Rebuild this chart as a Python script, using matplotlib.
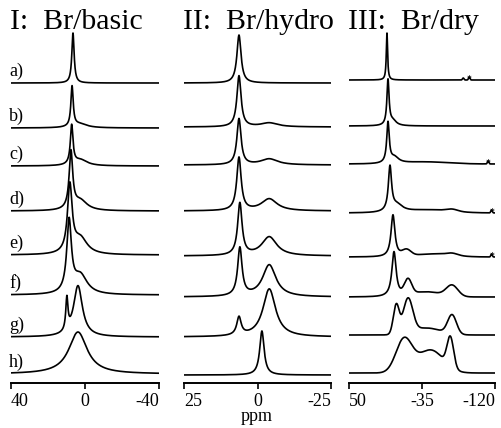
import numpy as np
import matplotlib.pyplot as plt
from matplotlib.transforms import blended_transform_factory

plt.rcParams['font.family'] = ['Liberation Serif', 'DejaVu Serif']

# peak components per spectrum: (shape, centre ppm, height, fwhm ppm)
row_labels = ["a)", "b)", "c)", "d)", "e)", "f)", "g)", "h)"]

basic_peaks = [
    [("L", 6.5, 50, 1.5)],
    [("L", 7.0, 40, 1.5), ("L", 3.0, 4, 10)],
    [("L", 7.2, 39, 1.7), ("L", 2.5, 6, 9)],
    [("L", 7.6, 57, 2.3), ("L", 2.5, 10, 9)],
    [("L", 8.2, 67, 3.0), ("L", 2.5, 16, 9)],
    [("L", 8.6, 71, 3.0), ("L", 2.5, 19, 9)],
    [("L", 9.8, 32, 1.4), ("L", 3.8, 51, 5.8)],
    [("L", 3.8, 42, 12)],
]

hydro_peaks = [
    [("L", 6.3, 48, 1.7)],
    [("L", 6.3, 51, 1.7), ("L", -4, 4, 7)],
    [("L", 6.3, 46, 1.7), ("L", -4, 6, 7)],
    [("L", 6.3, 53, 1.8), ("L", -4, 12, 6.5)],
    [("L", 6.0, 52, 1.8), ("L", -4, 19, 6.2)],
    [("L", 6.0, 48, 1.8), ("L", -4, 32, 5.5)],
    [("L", 6.3, 18, 1.8), ("L", -4, 48, 5.2)],
    [("L", -1.5, 44, 1.8)],
]

dry_peaks = [
    [("L", 5.8, 47, 1.8), ("G", -83, 2, 2), ("G", -90, 3, 2)],
    [("L", 4.6, 45, 3.0), ("L", -1, 5, 10)],
    [("L", 4.6, 40, 3.5), ("L", -3, 6, 12), ("G", -40, 2, 60), ("G", -112, 3, 2)],
    [("L", 2.3, 44, 4.5), ("L", -6, 7, 16), ("G", -45, 3, 60), ("G", -70, 2, 15), ("G", -116, 3, 2)],
    [("L", -1.2, 42, 5.5), ("G", -17, 6, 12), ("G", -50, 3, 50), ("G", -70, 2, 15), ("G", -116, 3, 2)],
    [("L", -2.4, 45, 6), ("G", -18.7, 15, 10), ("G", -70, 11, 16), ("G", -40, 5, 40)],
    [("G", -5, 29, 8), ("G", -18.7, 34, 13), ("G", -70, 19, 12), ("G", -40, 7, 40)],
    [("G", -14, 33, 22), ("G", -68, 30, 9), ("G", -45, 23, 35)],
]
dry_stars = [-90, None, -112, -116, -116, None, None, None]

titles = ["I:  Br/basic", "II:  Br/hydro", "III:  Br/dry"]
ranges = [(40, -40), (25, -25), (50, -120)]
tick_values = [[40, 0, -40], [25, 0, -25], [50, -35, -120]]
tick_text = [["40", "0", "-40"], ["25", "0", "-25"], ["50", "-35", "-120"]]

# layout (pixels of the 501x428 figure)
panel_x = [(11, 159), (184, 331), (349, 495)]
axis_y = 383
offsets = [
    [300, 255, 217, 172, 128, 88, 46, 9],
    [300, 256, 218, 172, 127, 86, 46, 8],
    [303, 257, 219, 170, 126, 86, 48, 10],
]


def lor(x, c, h, w):
    return h / (1 + ((x - c) / (w / 2)) ** 2)


def gau(x, c, h, w):
    return h * np.exp(-4 * np.log(2) * ((x - c) / w) ** 2)


def spectrum(x, comps):
    y = np.zeros_like(x)
    for shape, c, h, w in comps:
        y += lor(x, c, h, w) if shape == "L" else gau(x, c, h, w)
    return y


W, H = 501, 428
fig = plt.figure(figsize=(W / 100, H / 100), dpi=100)

all_peaks = [basic_peaks, hydro_peaks, dry_peaks]
for i in range(3):
    x0, x1 = panel_x[i]
    ax = fig.add_axes([x0 / W, (H - axis_y) / H, (x1 - x0) / W, axis_y / H])
    lo, hi = ranges[i]
    x = np.linspace(lo, hi, 1500)
    for j, comps in enumerate(all_peaks[i]):
        ax.plot(x, offsets[i][j] + spectrum(x, comps), color="black", lw=1.2,
                solid_joinstyle="round")
    ax.set_xlim(lo, hi)
    ax.set_ylim(0, axis_y)
    for s in ["top", "left", "right"]:
        ax.spines[s].set_visible(False)
    ax.spines["bottom"].set_linewidth(1.4)
    ax.yaxis.set_visible(False)
    ax.set_xticks(tick_values[i], tick_text[i])
    ax.set_xticks([lo, hi], minor=True)
    ax.tick_params(axis="x", which="major", direction="out", length=4, width=1.2,
                   labelsize=13, pad=3)
    ax.tick_params(axis="x", which="minor", direction="inout", length=11, width=1.4)
    labs = ax.get_xticklabels()
    labs[0].set_ha("left")
    labs[-1].set_ha("right")
    ax.patch.set_alpha(0)
    fig.text(x0 / W - 0.002, (H - 29) / H, titles[i], fontsize=21.5, ha="left", va="baseline")

    if i == 0:
        tr = blended_transform_factory(ax.transAxes, ax.transData)
        for j, lab in enumerate(row_labels):
            ax.text(-0.014, offsets[i][j] + 12, lab, transform=tr, fontsize=13,
                    ha="left", va="center")
    if i == 2:
        for j, s in enumerate(dry_stars):
            if s is not None:
                ax.text(s, offsets[i][j] + 1, "*", fontsize=7, ha="center", va="center")

fig.text(257 / W, (H - 421) / H, "ppm", fontsize=13, ha="center", va="baseline")

fig.savefig("out.png", dpi=100)
